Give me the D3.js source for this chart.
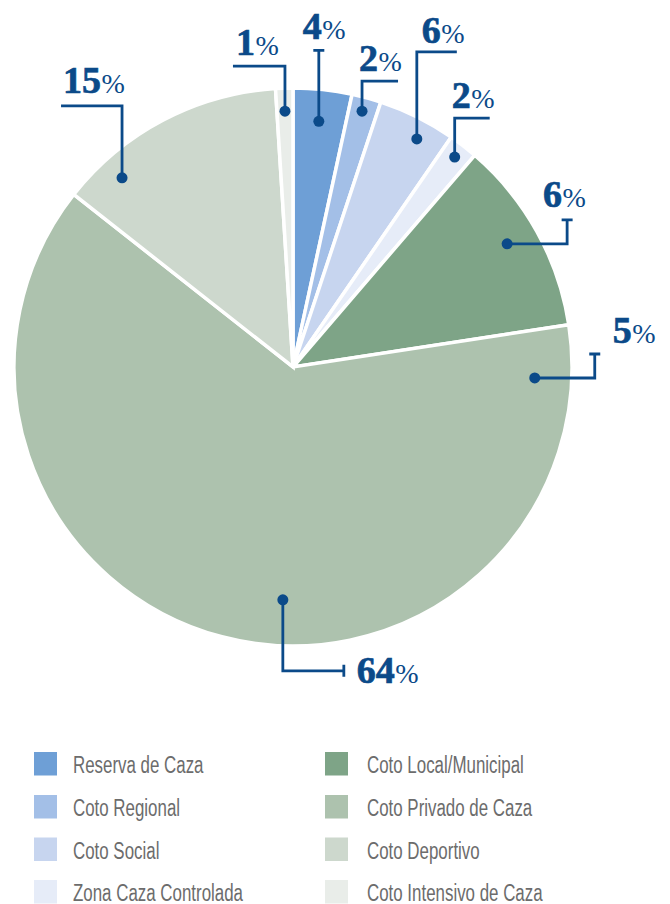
<!DOCTYPE html>
<html><head><meta charset="utf-8">
<script src="https://cdn.jsdelivr.net/npm/d3@7"></script>
<style>html,body{margin:0;padding:0;background:#fff;}svg{display:block;}</style>
</head><body>
<svg id="chart" width="670" height="904"></svg>
<script>
// ---- data ----
const categories = ["Reserva de Caza","Coto Regional","Coto Social","Zona Caza Controlada",
  "Coto Local/Municipal","Coto Privado de Caza","Coto Deportivo","Coto Intensivo de Caza"];
const values = [3.4, 1.7, 4.5, 1.7, 11.3, 63.1, 13.4, 1.0];
const colors = ["#6e9fd6","#a3bfe7","#c7d5ef","#e6ecf8","#7ea487","#adc2ae","#cdd8cd","#e9ede9"];
// annotation labels (as printed)
const labelText  = ["1","4","2","6","2","6","5","64","15"];
// annotation polar anchor (degrees clockwise from 12 o'clock, radius)
const labelAngle = [358.2, 6.0, 15.1, 28.5, 37.6, 60.1, 92.6, 182.5, 317.9];
const labelRad   = [256, 247, 265, 259.5, 265, 247, 242, 233, 255];

// ---- layout ----
const svg = d3.select("#chart");
const cx = 293, cy = 367, R = 279;
const navy = "#0b4a89";

const pie = d3.pie().sort(null).value(d => d);
const arc = d3.arc().innerRadius(0).outerRadius(R);
const g = svg.append("g").attr("transform", `translate(${cx},${cy})`);
g.selectAll("path.slice").data(pie(values)).join("path")
  .attr("class","slice")
  .attr("d", arc)
  .attr("fill", (d,i) => colors[i])
  .attr("stroke", "#fff").attr("stroke-width", 3.5).attr("stroke-linejoin","miter");

// leader shapes (relative legs from dot), cap type, text offset from dot
const legs = [
  [[0,-45],[-52,0]],
  [[0,-71]],
  [[0,-30],[36,0]],
  [[0,-87],[40,0]],
  [[0,-39],[35,0]],
  [[60,0],[0,-24]],
  [[60,0],[0,-24]],
  [[0,71],[61,0]],
  [[0,-72],[-61,0]]
];
const caps = [null,"h",null,null,null,"h","h","v",null];
const textOff = [[-49,-56],[-16,-82],[-3,-40],[5,-96],[-3,-49],[36,-37],[78,-35],[74,83],[-59,-85]];

const ann = g.append("g");
labelText.forEach((t,i) => {
  const a = labelAngle[i] * Math.PI / 180;
  const x0 = Math.sin(a) * labelRad[i], y0 = -Math.cos(a) * labelRad[i];
  let x = x0, y = y0;
  const p = d3.path(); p.moveTo(x, y);
  legs[i].forEach(([dx,dy]) => { x += dx; y += dy; p.lineTo(x, y); });
  if (caps[i] === "h") { p.moveTo(x-5.5, y); p.lineTo(x+5.5, y); }
  if (caps[i] === "v") { p.moveTo(x, y-6); p.lineTo(x, y+6); }
  ann.append("path").attr("d", p.toString()).attr("fill","none")
    .attr("stroke", navy).attr("stroke-width", 2.8);
  ann.append("circle").attr("cx", x0).attr("cy", y0).attr("r", 5.5).attr("fill", navy);
  const tx = ann.append("text").attr("x", x0 + textOff[i][0]).attr("y", y0 + textOff[i][1])
    .attr("fill", navy).attr("font-family", "'Liberation Serif', serif");
  tx.append("tspan").attr("font-size", 38).attr("font-weight", "bold")
    .attr("stroke", navy).attr("stroke-width", 0.7).text(t);
  tx.append("tspan").attr("font-size", 28).attr("font-weight", "normal").attr("dx", 0.5).text("%");
});

// ---- legend ----
const legendX = [34, 325], legendTextX = [73, 367];
const legendY = [752, 795, 837.5, 880];
const leg = svg.append("g");
categories.forEach((c,i) => {
  const col = Math.floor(i / 4), row = i % 4;
  leg.append("rect").attr("x", legendX[col]).attr("y", legendY[row])
    .attr("width", 23).attr("height", 23.5).attr("fill", colors[i]);
  leg.append("text")
    .attr("transform", `translate(${legendTextX[col]},${legendY[row] + 21}) scale(0.69,1)`)
    .attr("font-family", "'Liberation Sans', Arial, sans-serif")
    .attr("font-size", 24.5).attr("fill", "#6c6c6c").text(c);
});
</script>
</body></html>
